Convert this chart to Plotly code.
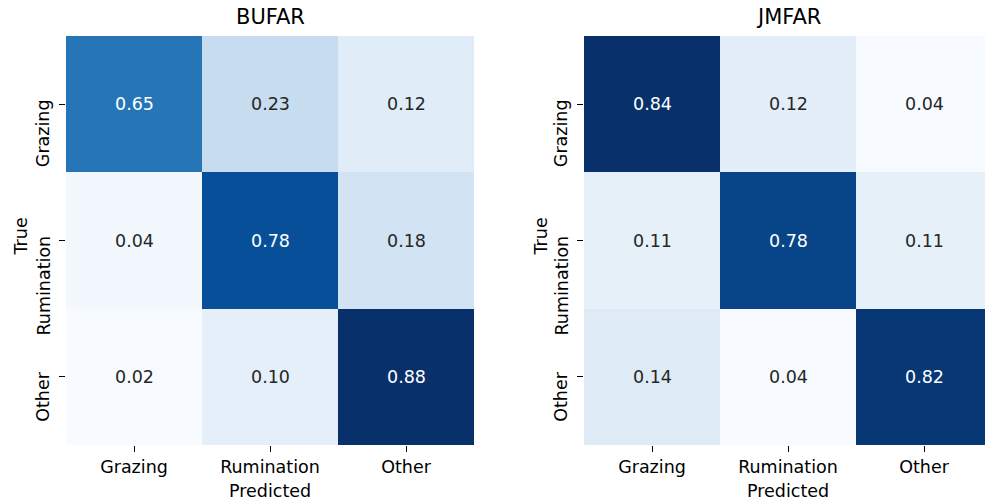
import plotly.graph_objects as go

labels = ["Grazing", "Rumination", "Other"]
titles = ["BUFAR", "JMFAR"]
bufar = [[0.65, 0.23, 0.12],
         [0.04, 0.78, 0.18],
         [0.02, 0.10, 0.88]]
jmfar = [[0.84, 0.12, 0.04],
         [0.11, 0.78, 0.11],
         [0.14, 0.04, 0.82]]
matrices = [bufar, jmfar]

blues = ["#f7fbff", "#deebf7", "#c6dbef", "#9ecae1", "#6baed6",
         "#4292c6", "#2171b5", "#08519c", "#08306b"]
colorscale = [[i / (len(blues) - 1), c] for i, c in enumerate(blues)]

FONT = "DejaVu Sans"
W, H = 985, 502
ML, MR, MT, MB = 66, 0, 36, 57
pw = W - ML - MR


def hex2rgb(h):
    h = h.lstrip("#")
    return [int(h[i:i + 2], 16) / 255 for i in (0, 2, 4)]


def cmap(t):
    t = min(max(t, 0), 1)
    n = len(blues) - 1
    i = min(int(t * n), n - 1)
    f = t * n - i
    a, b = hex2rgb(blues[i]), hex2rgb(blues[i + 1])
    return [a[k] + (b[k] - a[k]) * f for k in range(3)]


def lum(rgb):
    def lin(c):
        return c / 12.92 if c <= 0.03928 else ((c + 0.055) / 1.055) ** 2.4
    r, g, b = [lin(c) for c in rgb]
    return 0.2126 * r + 0.7152 * g + 0.0722 * b


fig = go.Figure()
annotations = []
axn = ["", "2"]
for k, m in enumerate(matrices):
    flat = [v for row in m for v in row]
    zmin, zmax = min(flat), max(flat)
    fig.add_trace(go.Heatmap(
        z=m, x=labels, y=labels, colorscale=colorscale,
        zmin=zmin, zmax=zmax, showscale=False, hoverinfo="skip",
        xaxis="x" + axn[k], yaxis="y" + axn[k]))
    for i, row in enumerate(m):
        for j, v in enumerate(row):
            c = cmap((v - zmin) / (zmax - zmin))
            col = "#ffffff" if lum(c) < 0.408 else "#262626"
            annotations.append(dict(
                x=labels[j], y=labels[i], xref="x" + axn[k], yref="y" + axn[k],
                text=f"{v:.2f}", showarrow=False,
                font=dict(family=FONT, size=17.5, color=col)))
    # y tick labels (rotated, anchored like matplotlib)
    for i, lab in enumerate(labels):
        annotations.append(dict(
            x=0, xref="x" + axn[k] + " domain", xshift=-35,
            y=lab, yref="y" + axn[k], yanchor="top", yshift=7,
            text=lab, textangle=-90, showarrow=False,
            font=dict(family=FONT, size=17.5, color="black")))
    # subplot title
    annotations.append(dict(
        x=labels[1], xref="x" + axn[k], y=1, yref="y" + axn[k] + " domain",
        yanchor="middle", yshift=19, text=titles[k], showarrow=False,
        font=dict(family=FONT, size=21, color="black")))
    # axis titles
    annotations.append(dict(
        x=labels[1], xref="x" + axn[k], y=0, yref="y" + axn[k] + " domain",
        yanchor="middle", yshift=-46, text="Predicted", showarrow=False,
        font=dict(family=FONT, size=17.5, color="black")))
    annotations.append(dict(
        x=0, xref="x" + axn[k] + " domain", xshift=-58 + 2 * k,
        y=0.5, yref="y" + axn[k] + " domain", yshift=4,
        text="True", textangle=-90, showarrow=False,
        font=dict(family=FONT, size=17.5, color="black")))

x1_end = (474 - ML) / pw
x2_start = (584 - ML) / pw
cell = (474 - 66) / 3.0
x2_max = -0.5 + (W - 584) / cell

axis_common = dict(showgrid=False, zeroline=False, showline=False,
                   ticks="outside", ticklen=6, tickwidth=1.2, tickcolor="black",
                   tickfont=dict(family=FONT, size=17.5, color="black"),
                   fixedrange=True)

fig.update_layout(
    width=W, height=H,
    margin=dict(l=ML, r=MR, t=MT, b=MB),
    paper_bgcolor="white", plot_bgcolor="white",
    font=dict(family=FONT, color="black"),
    xaxis=dict(domain=[0, x1_end], range=[-0.5, 2.5], anchor="y", **axis_common),
    yaxis=dict(domain=[0, 1], range=[2.5, -0.5], anchor="x",
               showticklabels=False, **axis_common),
    xaxis2=dict(domain=[x2_start, 1], range=[-0.5, x2_max], anchor="y2", **axis_common),
    yaxis2=dict(domain=[0, 1], range=[2.5, -0.5], anchor="x2",
                showticklabels=False, **axis_common),
    annotations=annotations,
)

fig.write_html("out.html", config={"displayModeBar": False},
               post_script="document.body.style.margin='0';document.body.style.overflow='hidden';")
